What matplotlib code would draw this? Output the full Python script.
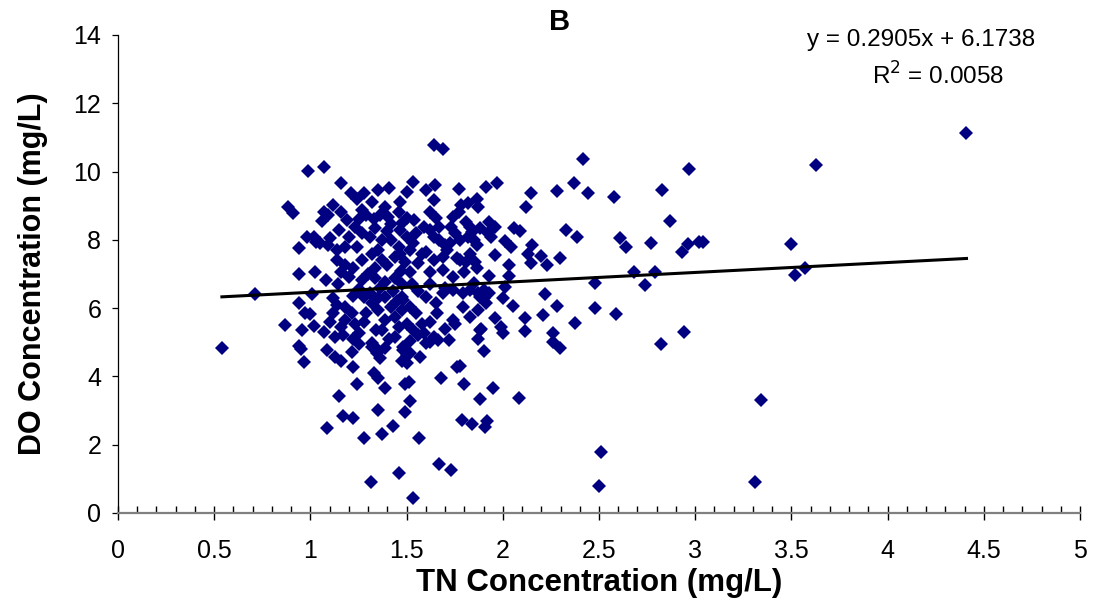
import matplotlib
matplotlib.use("Agg")
import matplotlib.pyplot as plt
from matplotlib import font_manager
from matplotlib.ticker import MultipleLocator

# 字体：尽量接近原图的 Arial
_names = {f.name for f in font_manager.fontManager.ttflist}
FONT = ["Liberation Sans Narrow", "Liberation Sans"] if "Liberation Sans Narrow" in _names else ["Liberation Sans"]
plt.rcParams["font.family"] = FONT

# 数据：TN (x) 与 DO (y)
tn_conc = [
    0.54, 0.71, 0.87, 0.885, 0.91, 0.94, 0.94, 0.94, 0.955, 0.94, 0.95, 0.965, 0.97, 0.98, 0.985,
    1.00, 1.01, 1.02, 1.03, 1.02, 1.024, 1.05, 1.06, 1.07, 1.07, 1.08, 1.07, 1.085, 1.085,
    1.09, 1.12, 1.09, 1.14, 1.13, 1.13, 1.16, 1.145, 1.14, 1.16, 1.16, 1.19, 1.18, 1.18, 1.16, 1.22,
    1.15, 1.17, 1.22, 1.24, 1.17, 1.18, 1.215, 1.18, 1.16, 1.23, 1.25, 1.22, 1.20,
    1.21, 1.24, 1.28, 1.35, 1.41, 1.32, 1.27, 1.29, 1.39, 1.36, 1.405, 1.46, 1.475, 1.23, 1.20, 1.27,
    1.335, 1.31, 1.37, 1.42, 1.46, 1.44, 1.27, 1.32, 1.35, 1.37, 1.335,
    1.215, 1.22, 1.32, 1.345, 1.36, 1.33, 1.35,
    1.28, 1.315, 1.35, 1.37, 1.39, 1.43, 1.46, 1.49, 1.51, 1.49, 1.52, 1.535, 1.566, 1.67, 1.73,
    1.68, 1.76, 1.80, 1.79,
    1.48, 1.50, 1.475, 1.57, 1.62, 1.665, 1.72, 1.75,
    1.27, 1.335, 1.39, 1.44, 1.475,
    1.28, 1.32, 1.35, 1.29, 1.39, 1.42, 1.44, 1.39, 1.37, 1.46, 1.44, 1.475, 1.475, 1.32, 1.35, 1.39,
    1.48, 1.52, 1.50, 1.60, 1.64, 1.59, 1.95, 1.88,
    1.52, 1.62, 1.69, 1.80, 1.865, 1.74, 1.93,
    1.48, 1.52, 1.55, 1.50, 1.535, 1.60, 1.655, 1.69, 1.74, 1.795, 1.83, 1.88, 1.90, 1.93,
    1.74, 1.83, 1.88, 1.96, 2.00, 1.87, 1.90,
    1.64, 1.69, 1.535, 1.50, 1.60, 1.65, 1.64, 1.77, 1.915, 1.97, 1.865, 1.87, 1.785, 1.82, 1.77,
    1.93, 1.96, 1.465, 1.50, 1.54, 1.62, 1.655, 1.59, 1.62, 1.67, 1.74, 1.73, 1.81, 1.84, 1.88,
    1.925, 1.78, 1.85, 1.865, 1.465, 1.50, 1.535, 1.52, 1.64, 1.67, 1.725, 1.71, 1.465, 1.49,
    1.56, 1.64, 1.69, 1.76, 1.81, 1.83, 1.96, 2.01,
    2.415, 2.37, 2.145, 2.28, 2.445, 2.58, 2.12, 2.33, 2.385, 2.06, 2.09, 2.61, 2.64, 2.77,
    1.83, 1.94, 1.82, 2.045, 2.15, 2.13, 2.20, 2.23, 2.295, 2.145, 2.03, 2.03, 1.78, 1.855,
    2.68, 2.79, 2.74, 2.48, 2.22, 2.01, 2.00, 2.28, 2.055, 2.48, 2.59, 2.375, 2.21, 2.115,
    1.99, 1.90, 1.915, 1.87, 1.87, 1.795, 1.85,
    1.885, 2.115, 2.26, 2.26, 2.295, 1.78, 2.085, 1.84, 1.91, 1.92, 2.51, 2.50, 2.82,
    2.83, 2.97, 2.87, 2.93, 2.96, 3.02, 3.04, 2.94, 3.50, 3.52, 3.57, 3.63, 4.41, 3.34, 3.31,
    1.25, 1.31, 1.43, 1.36, 1.22, 1.47, 1.40, 1.30, 1.24, 1.40, 1.55, 1.58, 1.62, 1.70, 1.56,
    1.66, 1.58, 1.70, 1.62, 1.12, 1.14, 1.28, 1.34, 1.41, 1.52, 1.56, 1.25, 1.12, 1.10, 1.35,
    1.45, 1.53, 1.60, 1.70, 1.75, 1.42, 1.25, 1.15, 1.10, 1.33,
]
do_conc = [
    4.82, 6.40, 5.52, 8.97, 8.79, 7.00, 7.75, 6.14, 5.36, 4.90, 4.79, 4.41, 5.85, 8.09, 10.01,
    5.83, 6.40, 8.09, 7.95, 5.49, 7.07, 7.92, 8.56, 8.82, 10.14, 6.81, 5.30, 4.76, 2.48,
    8.73, 9.02, 7.85, 7.70, 5.16, 4.58, 4.46, 6.72, 7.41, 9.67, 8.82, 8.58, 7.80, 7.26, 7.07, 7.17,
    3.43, 2.85, 2.77, 3.78, 5.21, 6.04, 5.85, 5.65, 5.46, 5.55, 5.26, 5.11, 6.92,
    9.36, 9.21, 9.36, 9.46, 9.51, 9.10, 8.87, 8.73, 8.97, 8.73, 8.68, 8.82, 8.48, 8.39, 8.09, 8.19,
    8.34, 8.09, 7.99, 7.99, 7.80, 7.50, 7.41, 7.60, 7.70, 7.41, 7.17,
    4.72, 4.28, 4.87, 4.68, 4.53, 4.09, 3.94,
    2.21, 0.92, 3.02, 2.31, 3.66, 2.55, 1.18, 3.78, 3.85, 2.97, 3.28, 0.45, 2.21, 1.43, 1.26,
    3.94, 4.29, 3.77, 2.72,
    4.77, 4.63, 4.46, 4.58, 5.02, 5.07, 5.07, 5.55,
    6.82, 6.87, 6.77, 6.87, 6.72,
    6.33, 6.14, 5.94, 5.85, 6.33, 6.04, 5.75, 5.65, 5.36, 5.46, 5.16, 5.94, 6.33, 4.97, 4.77, 4.82,
    4.87, 4.68, 4.38, 4.97, 5.16, 5.26, 3.65, 3.34,
    7.07, 7.07, 7.12, 7.07, 7.17, 6.92, 6.95,
    6.24, 6.04, 5.85, 5.55, 5.36, 6.33, 6.14, 6.43, 6.53, 6.43, 6.53, 6.33, 6.53, 6.43,
    5.65, 5.75, 5.36, 5.70, 5.26, 5.11, 4.75,
    10.78, 10.65, 9.68, 9.41, 9.46, 9.60, 9.17, 9.48, 9.56, 9.67, 9.21, 8.97, 9.02, 9.07, 8.82,
    8.53, 8.39, 9.12, 8.63, 8.58, 8.82, 8.63, 8.39, 8.29, 8.39, 8.68, 8.39, 8.53, 8.24, 8.34,
    8.19, 7.99, 7.99, 7.85, 8.29, 8.09, 7.90, 7.70, 8.09, 7.99, 7.90, 7.70, 7.60, 7.36,
    7.31, 7.41, 7.50, 7.46, 7.36, 7.60, 7.55, 7.96,
    10.37, 9.67, 9.38, 9.44, 9.38, 9.26, 8.97, 8.29, 8.09, 8.34, 8.27, 8.04, 7.80, 7.92,
    8.39, 8.09, 8.09, 7.79, 7.85, 7.60, 7.52, 7.27, 7.46, 7.33, 7.27, 6.93, 7.41, 7.36,
    7.07, 7.07, 6.68, 6.73, 6.41, 6.63, 6.29, 6.06, 6.06, 6.00, 5.83, 5.57, 5.80, 5.70,
    5.46, 6.29, 6.14, 6.43, 5.94, 6.04, 6.73,
    5.38, 5.34, 5.26, 5.02, 4.82, 4.30, 3.36, 2.61, 2.53, 2.70, 1.80, 0.80, 4.95,
    9.46, 10.07, 8.56, 7.64, 7.88, 7.95, 7.93, 5.30, 7.88, 6.97, 7.17, 10.19, 11.13, 3.31, 0.91,
    6.55, 6.45, 6.50, 6.60, 6.35, 7.10, 7.25, 7.00, 7.80, 8.25, 8.20, 7.60, 6.70, 6.60, 6.50,
    5.85, 5.55, 5.40, 5.60, 6.30, 6.10, 5.60, 5.35, 5.10, 5.05, 5.20, 4.95, 5.85, 5.60, 6.30,
    6.20, 6.70, 7.65, 7.85, 8.20, 8.45, 8.60, 8.30, 8.05, 8.60,
]

# Excel 趋势线参数
slope = 0.2905
intercept = 6.1738
r_squared = 0.0058

x_ticks = [0, 0.5, 1, 1.5, 2, 2.5, 3, 3.5, 4, 4.5, 5]
x_tick_labels = ["0", "0.5", "1", "1.5", "2", "2.5", "3", "3.5", "4", "4.5", "5"]
y_ticks = [0, 2, 4, 6, 8, 10, 12, 14]

fig = plt.figure(figsize=(10.99, 6.0), dpi=100)
ax = fig.add_axes([118 / 1099, 87 / 600, 962 / 1099, 478 / 600])

ax.plot(tn_conc, do_conc, linestyle="none", marker="D", markersize=7.3,
        color="#000080", markeredgewidth=0, zorder=2)

x_line = [min(tn_conc), max(tn_conc)]
ax.plot(x_line, [slope * v + intercept for v in x_line], color="black", linewidth=2.2, zorder=3)

ax.set_xlim(0, 5)
ax.set_ylim(0, 14)
ax.set_xticks(x_ticks)
ax.set_xticklabels(x_tick_labels)
ax.set_yticks(y_ticks)
ax.xaxis.set_minor_locator(MultipleLocator(0.1))

ax.spines["top"].set_visible(False)
ax.spines["right"].set_visible(False)
ax.spines["bottom"].set_color("#808080")
ax.spines["bottom"].set_linewidth(1.6)
ax.spines["left"].set_linewidth(0.9)

ax.tick_params(axis="x", which="major", direction="inout", length=10, width=1, labelsize=18, pad=14)
ax.tick_params(axis="x", which="minor", direction="in", length=5, width=1)
ax.tick_params(axis="y", which="major", direction="out", length=4, width=0.9, labelsize=18, pad=8)

ax.set_xlabel("TN Concentration (mg/L)", fontsize=22.5, fontweight="bold", labelpad=3)
ax.set_ylabel("DO Concentration (mg/L)", fontsize=22, fontweight="bold", labelpad=18)

fig.text(560 / 1099, 1 - 22 / 600, "B", fontsize=21, fontweight="bold", ha="center", va="center")
fig.text(921 / 1099, 1 - 40 / 600, f"y = {slope}x + {intercept}", fontsize=17.5, ha="center", va="center")
fig.text(938 / 1099, 1 - 76 / 600, f"R$^2$ = {r_squared}", fontsize=17.5, ha="center", va="center")

fig.savefig("out.png", dpi=100)
